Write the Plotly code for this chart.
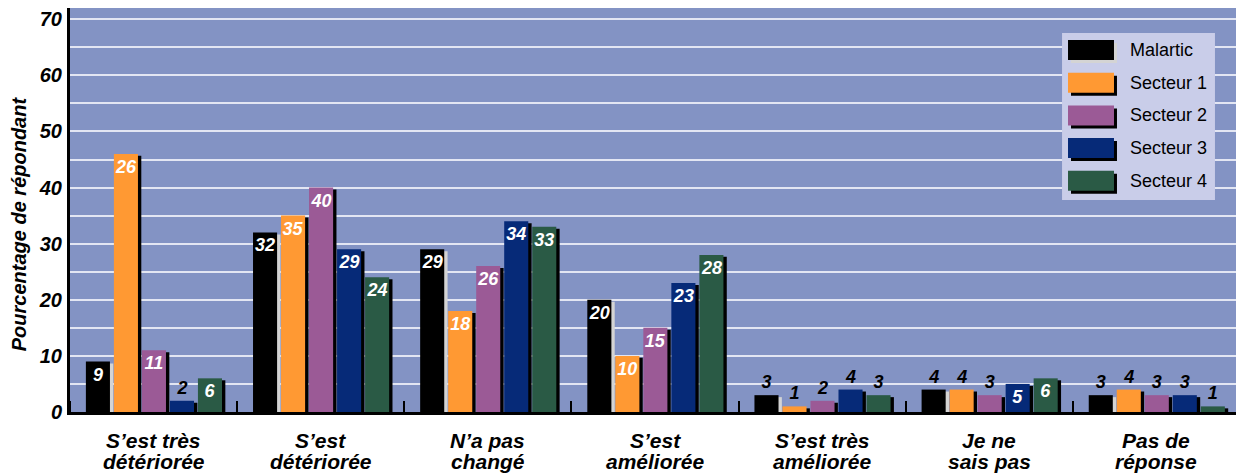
import plotly.graph_objects as go

categories = ["S’est très<br>détériorée", "S’est<br>détériorée", "N’a pas<br>changé",
              "S’est<br>améliorée", "S’est très<br>améliorée", "Je ne<br>sais pas", "Pas de<br>réponse"]
series_names = ["Malartic", "Secteur 1", "Secteur 2", "Secteur 3", "Secteur 4"]

malartic = [9, 32, 29, 20, 3, 4, 3]
secteur1 = [46, 35, 18, 10, 1, 4, 4]
secteur2 = [11, 40, 26, 15, 2, 3, 3]
secteur3 = [2, 29, 34, 23, 4, 5, 3]
secteur4 = [6, 24, 33, 28, 3, 6, 1]

malartic_labels = ["9", "32", "29", "20", "3", "4", "3"]
secteur1_labels = ["26", "35", "18", "10", "1", "4", "4"]
secteur2_labels = ["11", "40", "26", "15", "2", "3", "3"]
secteur3_labels = ["2", "29", "34", "23", "4", "5", "3"]
secteur4_labels = ["6", "24", "33", "28", "3", "6", "1"]

values = [malartic, secteur1, secteur2, secteur3, secteur4]
labels = [malartic_labels, secteur1_labels, secteur2_labels, secteur3_labels, secteur4_labels]
colors = ["#000000", "#FF9933", "#9B5A96", "#062A78", "#2A5A45"]
shadow_colors = ["#d4d4d4", "#000000", "#000000", "#000000", "#000000"]

FONT = "Liberation Sans, Arial, sans-serif"
x = list(range(len(categories)))
bar_w = 0.144
pitch = 0.1676
start = -0.405

fig = go.Figure()

# bar shadows
for i, vals in enumerate(values):
    fig.add_trace(go.Bar(
        x=x, y=[max(v - 0.35, 0) for v in vals], width=bar_w,
        offset=start + i * pitch + 0.02,
        marker=dict(color=shadow_colors[i], line=dict(width=0)),
        showlegend=False, hoverinfo="skip",
    ))

for i, vals in enumerate(values):
    pos = ["inside" if v >= 5 else "outside" for v in vals]
    tcol = ["white" if v >= 5 else "black" for v in vals]
    fig.add_trace(go.Bar(
        x=x, y=vals, width=bar_w, offset=start + i * pitch,
        name=series_names[i], text=labels[i], textposition=pos,
        insidetextanchor="end", textangle=0, cliponaxis=False,
        textfont=dict(family=FONT, size=18, color=tcol, weight="bold", style="italic"),
        marker=dict(color=colors[i], line=dict(width=0)),
        showlegend=False,
    ))

# category labels (two tight lines)
annotations = []
for xi, cat in zip(x, categories):
    for li, line in enumerate(cat.split("<br>")):
        annotations.append(dict(
            x=xi, xref="x", y=0, yref="paper", yanchor="top", xanchor="center",
            yshift=-15 - 21 * li, text=line, showarrow=False,
            font=dict(family=FONT, size=21, color="black", weight="bold", style="italic"),
        ))

# y-axis title
annotations.append(dict(
    x=-0.0435, xref="paper", y=0.465, yref="paper", xanchor="center", yanchor="middle",
    text="Pourcentage de répondant", textangle=-90, showarrow=False,
    font=dict(family=FONT, size=20, color="black", weight="bold", style="italic"),
))

# custom legend
shapes = []
lx0, lx1, ly0, ly1 = 0.8479, 0.9786, 0.525, 0.938
shapes.append(dict(type="rect", xref="paper", yref="paper", x0=lx0, x1=lx1, y0=ly0, y1=ly1,
                   fillcolor="#C9CDE9", line=dict(width=0), layer="above"))
item_top = 42
item_pitch = 32.7
for i, name in enumerate(series_names):
    cy = item_top + i * item_pitch  # px from top of plot area
    yc = (404 - cy) / 404
    h = 10 / 404
    sx0, sx1 = 0.853, 0.8923
    dx, dy = 3 / 1170, 3 / 404
    shapes.append(dict(type="rect", xref="paper", yref="paper",
                       x0=sx0 + dx, x1=sx1 + dx, y0=yc - h - dy, y1=yc + h - dy,
                       fillcolor=shadow_colors[i], line=dict(width=0), layer="above"))
    shapes.append(dict(type="rect", xref="paper", yref="paper",
                       x0=sx0, x1=sx1, y0=yc - h, y1=yc + h,
                       fillcolor=colors[i], line=dict(width=0), layer="above"))
    annotations.append(dict(x=0.9043, xref="paper", y=yc, yref="paper", xanchor="left",
                            yanchor="middle", text=name, showarrow=False,
                            font=dict(family=FONT, size=18, color="black")))

fig.update_layout(
    width=1236, height=468,
    margin=dict(l=62, r=4, t=0, b=64, autoexpand=False),
    barmode="overlay",
    paper_bgcolor="white",
    plot_bgcolor="#8393C4",
    font=dict(family=FONT, color="black"),
    showlegend=False,
    uniformtext=dict(mode="show", minsize=18),
    shapes=shapes,
    annotations=annotations,
)

fig.update_xaxes(
    range=[-0.5, 6.5], tickmode="array", tickvals=x, showticklabels=False,
    showgrid=False, zeroline=False,
    showline=True, linecolor="black", linewidth=3,
    ticks="", ticklen=0,
    minor=dict(tick0=0.5, dtick=1, ticks="inside", ticklen=11, tickwidth=2, tickcolor="black", showgrid=False),
)

fig.update_yaxes(
    range=[0, 72], tickmode="linear", tick0=0, dtick=10,
    tickfont=dict(family=FONT, size=20, color="black", weight="bold", style="italic"),
    showgrid=True, gridcolor="#E3E6F3", gridwidth=2,
    minor=dict(dtick=5, showgrid=True, gridcolor="#E3E6F3", gridwidth=2),
    zeroline=False, showline=True, linecolor="black", linewidth=3,
    ticks="", ticklabelstandoff=1, automargin=False,
)

fig.write_html("out.html")
